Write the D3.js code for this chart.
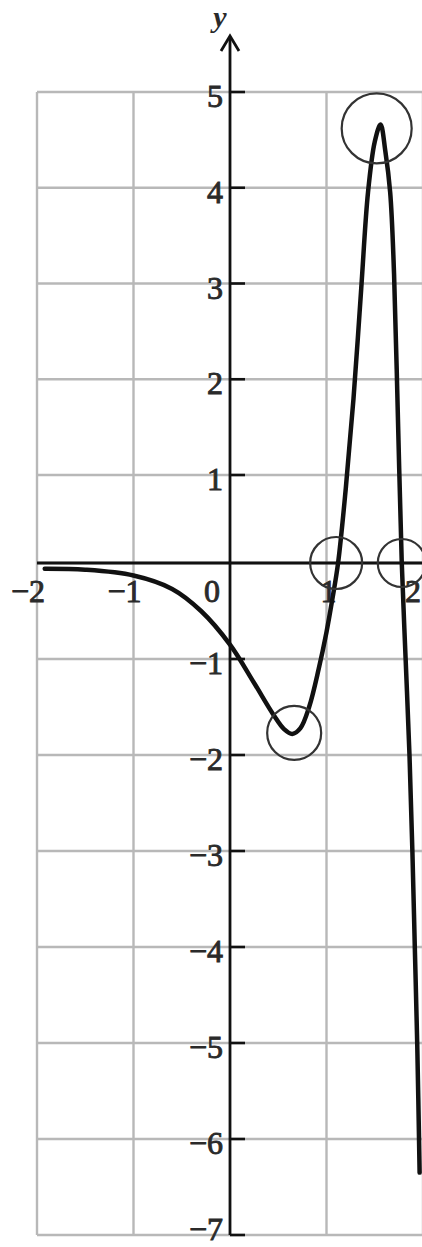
<!DOCTYPE html>
<html>
<head>
<meta charset="utf-8">
<script src="https://cdn.jsdelivr.net/npm/d3@7"></script>
<style>
  html, body { margin: 0; padding: 0; background: #fff; }
  svg { display: block; }
</style>
</head>
<body>
<svg id="chart" width="422" height="1247"></svg>
<script>
// Grid / tick values
const xTicks = [-2, -1, 0, 1, 2];
const yTicks = [-7, -6, -5, -4, -3, -2, -1, 0, 1, 2, 3, 4, 5];

// Graph of y = f(x), sampled points
const curveX = [-1.92, -1.5, -1.0, -0.6, -0.3, 0, 0.25, 0.45, 0.56, 0.645, 0.73, 0.82, 0.92, 1.0, 1.06, 1.12, 1.2, 1.28, 1.36, 1.43, 1.5, 1.56, 1.61, 1.66, 1.70, 1.74, 1.78, 1.82, 1.86, 1.89, 1.915, 1.94, 1.965];
const curveY = [-0.06, -0.07, -0.13, -0.27, -0.5, -0.85, -1.25, -1.58, -1.73, -1.78, -1.72, -1.5, -1.1, -0.72, -0.38, 0, 0.85, 1.8, 2.95, 3.95, 4.48, 4.66, 4.38, 3.95, 3.1, 1.6, 0, -1, -2, -3, -4, -5, -6.35];

// Circled points: relative extrema and zeros
const markX = [1.52, 0.665, 1.10, 1.78];
const markY = [4.62, -1.77, 0, 0];

// ---- styling ----
const markRadius = [35, 27, 26, 24];
const gridColor = "#b8b8b8";
const inkColor = "#111";
const labelColor = "#2a2a2a";

const svg = d3.select("#chart");

// x: one unit ≈ 96.5px; y scale piecewise to follow the printed grid
const x = d3.scaleLinear().domain([-2, 2]).range([37, 423]);
const y = d3.scaleLinear().domain([-7, 0, 1, 5]).range([1235, 563, 475, 92]);

const xMin = x(-2), xMax = 422;

// grid
const grid = svg.append("g").attr("stroke", gridColor).attr("stroke-width", 2.4);
grid.selectAll("line.h").data(yTicks).join("line")
  .attr("class", "h")
  .attr("x1", xMin).attr("x2", xMax)
  .attr("y1", d => y(d)).attr("y2", d => y(d));
grid.selectAll("line.v").data(xTicks.filter(d => d !== 0)).join("line")
  .attr("class", "v")
  .attr("x1", d => x(d)).attr("x2", d => x(d))
  .attr("y1", y(5)).attr("y2", y(-7));

// x axis
svg.append("line")
  .attr("x1", xMin).attr("x2", xMax)
  .attr("y1", y(0)).attr("y2", y(0))
  .attr("stroke", inkColor).attr("stroke-width", 3);

// y axis with arrow
const yAxisX = x(0);
svg.append("line")
  .attr("x1", yAxisX).attr("x2", yAxisX)
  .attr("y1", y(-7)).attr("y2", 37)
  .attr("stroke", inkColor).attr("stroke-width", 2.8);
svg.append("path")
  .attr("d", `M${yAxisX - 9},51 L${yAxisX},36 L${yAxisX + 9},51`)
  .attr("fill", "none").attr("stroke", inkColor).attr("stroke-width", 2.8)
  .attr("stroke-linejoin", "miter");
svg.append("text")
  .attr("x", yAxisX - 10).attr("y", 27)
  .attr("text-anchor", "middle")
  .attr("font-family", "Liberation Serif, serif")
  .attr("font-style", "italic")
  .attr("font-weight", "bold")
  .attr("font-size", 30)
  .attr("fill", labelColor)
  .text("y");

// y ticks (to the right of the axis) and labels (to the left)
const fmt = d => (d < 0 ? "\u2212" + Math.abs(d) : String(d));
const yT = svg.append("g");
yT.selectAll("line").data(yTicks.filter(d => d !== 0)).join("line")
  .attr("x1", yAxisX).attr("x2", yAxisX + 15)
  .attr("y1", d => y(d)).attr("y2", d => y(d))
  .attr("stroke", inkColor).attr("stroke-width", 2.6);
yT.selectAll("text").data(yTicks.filter(d => d !== 0)).join("text")
  .attr("x", yAxisX - 7)
  .attr("y", d => y(d) + (d === -7 ? -6 : 4))
  .attr("dominant-baseline", "central")
  .attr("text-anchor", "end")
  .attr("font-family", "Liberation Serif, serif")
  .attr("font-size", 32)
  .attr("fill", labelColor)
  .attr("stroke", labelColor)
  .attr("stroke-width", 0.9)
  .text(fmt);

// x labels below the axis; the last one is kept inside the right edge
svg.append("g").selectAll("text").data(xTicks).join("text")
  .attr("x", d => d === 2 ? xMax - 1 : x(d) + (d < 0 ? -9 : d === 0 ? -18 : 2))
  .attr("y", y(0) + 28)
  .attr("dominant-baseline", "central")
  .attr("text-anchor", d => d === 2 ? "end" : "middle")
  .attr("font-family", "Liberation Serif, serif")
  .attr("font-size", 32)
  .attr("fill", labelColor)
  .attr("stroke", labelColor)
  .attr("stroke-width", 0.9)
  .text(fmt);

// the curve
const pts = curveX.map((d, i) => [d, curveY[i]]);
const line = d3.line()
  .x(d => x(d[0]))
  .y(d => y(d[1]))
  .curve(d3.curveCatmullRom.alpha(0.5));
svg.append("path")
  .datum(pts)
  .attr("d", line)
  .attr("fill", "none")
  .attr("stroke", inkColor)
  .attr("stroke-width", 4.5)
  .attr("stroke-linecap", "round")
  .attr("stroke-linejoin", "round");

// circled points
svg.append("g").selectAll("circle").data(markX).join("circle")
  .attr("cx", d => x(d))
  .attr("cy", (d, i) => y(markY[i]))
  .attr("r", (d, i) => markRadius[i])
  .attr("fill", "none")
  .attr("stroke", "#333")
  .attr("stroke-width", 2.2);
</script>
</body>
</html>
